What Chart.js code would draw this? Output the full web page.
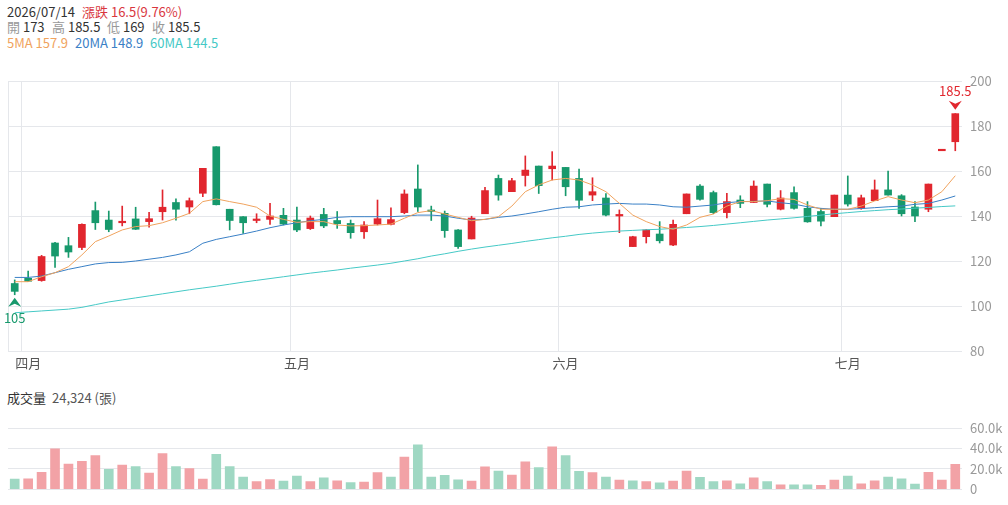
<!DOCTYPE html>
<html>
<head>
<meta charset="utf-8">
<script src="https://cdn.jsdelivr.net/npm/chart.js"></script>
<style>
  body { margin: 0; background: #fff; font-family: "Noto Sans CJK TC", "Noto Sans", sans-serif; }
  #wrap { position: relative; width: 1008px; height: 505px; overflow: hidden; }
  .t { position: absolute; font-size: 13px; line-height: 16px; white-space: nowrap; color: #333; }
  .g { color: #999; }
  #priceBox { position: absolute; left: 0; top: 60px; width: 1008px; height: 315px; }
  #volBox { position: absolute; left: 0; top: 410px; width: 1008px; height: 95px; }
</style>
</head>
<body>
<div id="wrap">
  <div class="t" style="left:7px;top:4px" id="hDate"></div>
  <div class="t" style="left:82px;top:4px;color:#d9363e" id="hChg"></div>
  <div class="t" style="left:7px;top:19px"><span class="g">開</span> <span id="hO"></span></div>
  <div class="t" style="left:52px;top:19px"><span class="g">高</span> <span id="hH"></span></div>
  <div class="t" style="left:107px;top:19px"><span class="g">低</span> <span id="hL"></span></div>
  <div class="t" style="left:152px;top:19px"><span class="g">收</span> <span id="hC"></span></div>
  <div class="t" style="left:7px;top:35px;color:#f0a35e" id="h5"></div>
  <div class="t" style="left:75px;top:35px;color:#3a80c6" id="h20"></div>
  <div class="t" style="left:150px;top:35px;color:#45c9c6" id="h60"></div>
  <div class="t" style="left:7px;top:390px">成交量</div>
  <div class="t" style="left:52px;top:390px;color:#555" id="hVol"></div>
  <div id="priceBox"><canvas id="priceChart"></canvas></div>
  <div id="volBox"><canvas id="volChart"></canvas></div>
</div>
<script>
const dates = ['2026/03/31',
  '04/01','04/02','04/07','04/08','04/09','04/10','04/13','04/14','04/15','04/16',
  '04/17','04/20','04/21','04/22','04/23','04/24','04/27','04/28','04/29','04/30',
  '05/04','05/05','05/06','05/07','05/08','05/11','05/12','05/13','05/14','05/15',
  '05/18','05/19','05/20','05/21','05/22','05/25','05/26','05/27','05/28','05/29',
  '06/01','06/02','06/03','06/04','06/05','06/08','06/09','06/10','06/11','06/12',
  '06/15','06/16','06/17','06/18','06/22','06/23','06/24','06/25','06/26','06/29','06/30',
  '07/01','07/02','07/03','07/06','07/07','07/08','07/09','07/13','07/14'];
const monthNames = { '03': '三月', '04': '四月', '05': '五月', '06': '六月', '07': '七月' };

const opens  = [110,112.3,111.3,128,126.8,126,142.4,138.2,137,138.7,137.5,141.9,146,144,150.1,170.8,143,139.7,138,138.5,
  140.3,138.2,134.4,140.7,138,136.7,133,136.4,136.3,141.5,152,142.5,141.2,133.8,129.8,141,156.7,150.8,158,162.2,
  161,161.6,156.7,149.3,148,140,126.4,130.8,132,127.1,141,153.3,150.4,141.5,147.1,146,154.2,143,150.4,143.4,
  142,139.7,149.3,143.4,146.8,151.6,149,144,143,169,173];
const highs  = [111.6,115.5,122.5,128.3,130.5,136.5,146.2,142.2,144.4,143.9,141.6,151.6,147.6,148,161.2,170.8,143,139.7,141,145.6,
  143.4,144,140,143.4,142,138.2,137.5,147.1,143.6,151.6,162.7,144.4,142.2,134,139.9,152.7,158.2,156.7,166.7,162.2,
  168.6,161.6,160.8,157,150,142.7,131,134,137.5,138.2,149.8,154,151.1,150.1,149,155.6,154.2,151.3,153,146.4,
  143.4,149.3,157.8,149.3,156,160,149.5,146.4,154.2,169,185.5];
const lows   = [105,110.8,111,117.2,121.6,125,134,133,135.6,134,135,138.2,138.2,141,148.6,144.9,133.8,132.3,137,136.3,
  136,133,134,134.8,134.5,130.1,130,136,136,141,142,138,130.5,125.6,129.8,141,147,150.8,153.3,150,
  156,149,143.4,146.8,140,132.6,126.4,128,128,126.8,141,147,141,139.2,143.7,146,144,142.7,143,137.2,
  135.6,139.7,144.4,143,146.8,149.3,140,137.5,141.9,169,169];
const closes = [106.5,111,122,122.2,124,136.3,137,134,137.5,134.1,138.8,143.9,143,146.8,161.2,145,138,137,138.3,140,
  136.4,133.8,139.1,135.6,136.6,132.6,136,138.8,138.4,149.8,144,142,133.5,126.4,139.1,151.3,149.3,155.7,160.4,153.5,
  162.2,153,147,150.8,140.4,140.7,130.8,133.8,129,136.3,149.8,147.4,141.5,146.4,145.6,153.3,145.2,148,143.4,137.4,
  137.7,149.3,145.3,148.1,151.6,149.3,141,140,154.2,169,185.5];
const volumes = [9900,10200,16600,39700,24600,27400,33000,19400,23700,22200,15700,34800,22200,20300,9900,34200,22200,12000,7400,9500,
  8000,12900,7400,11100,8300,6500,7100,16300,12000,31400,43400,12000,13500,9200,8000,21900,17800,13800,26800,21200,
  41500,33000,17500,16300,12000,8900,8300,7400,6200,8000,17800,11700,7400,8300,5200,11100,7400,4300,4300,4300,
  3700,8900,12900,5200,8300,12000,10200,4900,16600,8900,24324];
const ma5  = [110.8,110.8,113,114.8,117.5,122.7,128.6,131.1,133.8,135.3,135.7,137,139,141.2,146.4,147.6,146.4,145.3,143.9,140,
  138.5,137.2,137.5,137.5,136,135.6,135.7,136,136.4,139,141.5,142.4,140.9,139.4,137.9,138.5,139.7,144.4,150.8,153.8,
  156,156.7,156,153.8,150.8,145.6,140.4,137.5,135.3,134.1,136,139.4,140.9,144.4,146.4,146.4,146.8,147.7,147.4,144.9,
  143,143,143,144.4,146.7,148.6,147.1,145.9,147.1,150.8,157.9];
const ma20 = [112.7,112.7,113.3,114.8,116.3,117.5,118.7,119.3,119.4,120,120.8,121.6,122.7,124.1,127.9,129.6,130.8,132,133.3,134.8,
  136,137,137.9,138.5,139.4,139.7,139.7,139.7,139.7,140,140.4,140.4,140,139,138.2,138.5,139.4,140,140.9,141.9,
  143,143.9,144.1,144.9,145.3,145.6,145.3,145.3,144.9,144.1,143.9,144.4,144.9,145.9,146.4,146.5,146.7,145.9,145.3,144.1,
  143.4,143,143,143.3,143.7,144.1,144.4,145.2,145.6,147.1,148.9];
const ma60 = [97,97.4,97.8,98.2,98.6,99.4,100.6,101.8,102.7,103.6,104.5,105.4,106.3,107.2,108,108.8,109.7,110.6,111.4,112.2,
  113,113.8,114.6,115.3,116,116.8,117.5,118.2,119,120,121,122.2,123.2,124.3,125.3,126.2,127,127.8,128.7,129.5,
  130.3,131,131.8,132.4,132.9,133.3,133.6,133.9,134.1,134.5,134.9,135.3,135.8,136.4,137,137.6,138.2,138.7,139.2,139.8,
  140.4,141,141.5,142,142.4,142.8,143.1,143.5,143.8,144.2,144.5];
const priceTicks = [80, 100, 120, 140, 160, 180, 200];
const volTicks = [0, 20000, 40000, 60000];

const RED = '#e1262e', GREEN = '#17996c';
const RED_V = '#f2a2a6', GREEN_V = '#9fd8c3';
const GRID = '#e5e7eb';
const FONT = '"Noto Sans CJK TC", "Noto Sans", sans-serif';

const monthOf = d => d.length > 5 ? d.slice(5, 7) : d.slice(0, 2);
const isMonthStart = i => i > 0 && i < dates.length && monthOf(dates[i]) !== monthOf(dates[i - 1]);
const candleUp = opens.map((o, i) => closes[i] > o || (closes[i] === o && (i === 0 || closes[i] >= closes[i - 1])));
const volUp = closes.map((c, i) => i === 0 ? c > opens[0] : c >= closes[i - 1]);

// header
const n = closes.length - 1;
const chg = closes[n] - closes[n - 1];
document.getElementById('hDate').textContent = '2026/' + dates[n];
document.getElementById('hChg').textContent = '漲跌 ' + chg.toFixed(1) + '(' + (chg / closes[n - 1] * 100).toFixed(2) + '%)';
document.getElementById('hO').textContent = opens[n];
document.getElementById('hH').textContent = highs[n];
document.getElementById('hL').textContent = lows[n];
document.getElementById('hC').textContent = closes[n];
document.getElementById('h5').textContent = '5MA ' + ma5[n].toFixed(1);
document.getElementById('h20').textContent = '20MA ' + ma20[n].toFixed(1);
document.getElementById('h60').textContent = '60MA ' + ma60[n].toFixed(1);
document.getElementById('hVol').textContent = volumes[n].toLocaleString('en-US') + ' (張)';

const extremes = {
  id: 'extremes',
  afterDatasetsDraw(chart) {
    const { ctx, scales: { x, y } } = chart;
    const hi = highs.indexOf(Math.max(...highs));
    const lo = lows.indexOf(Math.min(...lows));
    ctx.save();
    ctx.font = '13px ' + FONT;
    ctx.textAlign = 'center';
    ctx.textBaseline = 'middle';
    // low marker
    let px = x.getPixelForValue(lo), py = y.getPixelForValue(lows[lo]) + 3;
    ctx.fillStyle = GREEN;
    ctx.beginPath();
    ctx.moveTo(px, py); ctx.lineTo(px + 6.5, py + 9); ctx.lineTo(px, py + 6); ctx.lineTo(px - 6.5, py + 9);
    ctx.closePath(); ctx.fill();
    ctx.fillText(String(lows[lo]), px, py + 20);
    // high marker
    px = x.getPixelForValue(hi); py = y.getPixelForValue(highs[hi]) - 4;
    ctx.fillStyle = RED;
    ctx.beginPath();
    ctx.moveTo(px, py); ctx.lineTo(px + 6.5, py - 9); ctx.lineTo(px, py - 6); ctx.lineTo(px - 6.5, py - 9);
    ctx.closePath(); ctx.fill();
    ctx.fillText(String(highs[hi]), px, py - 19);
    ctx.restore();
  }
};

Chart.defaults.font.family = FONT;
Chart.defaults.animation = false;

const lineDs = (label, data, color) => ({
  type: 'line', label, data, borderColor: color, borderWidth: 1,
  pointRadius: 0, tension: 0, fill: false, order: 0
});

new Chart(document.getElementById('priceChart'), {
  type: 'bar',
  data: {
    labels: dates,
    datasets: [
      lineDs('5MA', ma5, '#f0a35e'),
      lineDs('20MA', ma20, '#3a80c6'),
      lineDs('60MA', ma60, '#45c9c6'),
      {
        label: 'body', data: opens.map((o, i) => [o, closes[i]]),
        backgroundColor: candleUp.map(u => u ? RED : GREEN),
        barThickness: 7, minBarLength: 1.5, grouped: false, order: 1
      },
      {
        label: 'wick', data: lows.map((l, i) => [l, highs[i]]),
        backgroundColor: candleUp.map(u => u ? RED : GREEN),
        barThickness: 1, grouped: false, order: 2
      }
    ]
  },
  options: {
    responsive: true,
    maintainAspectRatio: false,
    layout: { padding: { left: 8, top: 21, right: 0, bottom: 0 } },
    scales: {
      x: {
        offset: true,
        grid: {
          offset: true, drawTicks: false,
          color: c => (c.index === 0 || isMonthStart(c.index)) ? GRID : 'transparent'
        },
        border: { display: false },
        ticks: {
          autoSkip: false, maxRotation: 0, padding: 4, color: '#555', font: { size: 13 },
          callback: (v, i) => isMonthStart(i) ? monthNames[monthOf(dates[i])] : ''
        },
        afterFit: s => { s.height = 24; }
      },
      y: {
        position: 'right', min: 80, max: 200,
        afterBuildTicks: s => { s.ticks = priceTicks.map(v => ({ value: v })); },
        grid: { color: GRID, drawTicks: false },
        border: { display: false },
        ticks: { padding: 8, color: '#999', font: { size: 13 } },
        afterFit: s => { s.width = 46; }
      }
    },
    plugins: { legend: { display: false }, tooltip: { enabled: false } }
  },
  plugins: [extremes]
});

new Chart(document.getElementById('volChart'), {
  type: 'bar',
  data: {
    labels: dates,
    datasets: [{
      label: '成交量', data: volumes,
      backgroundColor: volUp.map(u => u ? RED_V : GREEN_V),
      barThickness: 9
    }]
  },
  options: {
    responsive: true,
    maintainAspectRatio: false,
    layout: { padding: { left: 8, top: 18, right: 0, bottom: 12 } },
    scales: {
      x: { display: false, offset: true },
      y: {
        position: 'right', min: 0, max: 60000,
        afterBuildTicks: s => { s.ticks = volTicks.map(v => ({ value: v })); },
        grid: { color: GRID, drawTicks: false },
        border: { display: false },
        ticks: {
          padding: 8, color: '#999', font: { size: 13 },
          callback: v => v === 0 ? '0' : (v / 1000).toFixed(1) + 'k'
        },
        afterFit: s => { s.width = 46; }
      }
    },
    plugins: { legend: { display: false }, tooltip: { enabled: false } }
  }
});
</script>
</body>
</html>
